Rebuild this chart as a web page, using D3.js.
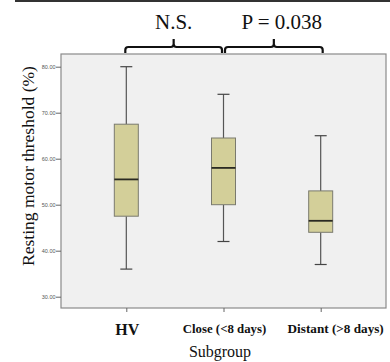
<!DOCTYPE html>
<html>
<head>
<meta charset="utf-8">
<script src="https://cdn.jsdelivr.net/npm/d3@7"></script>
<style>
  body { margin: 0; background: #fff; }
  svg { display: block; }
  .tick-label { font-family: Arial, "Liberation Sans", sans-serif; font-size: 5.5px; fill: #555; }
  .serif { font-family: "Liberation Serif", "Times New Roman", serif; fill: #111; }
</style>
</head>
<body>
<svg id="chart" width="390" height="362"></svg>
<script>
// Boxplot of resting motor threshold by subgroup

const groups = ['HV', 'Close (<8 days)', 'Distant (>8 days)'];
const whiskerLow = [36, 42, 37];
const q1 = [47.5, 50, 44];
const median = [55.5, 58, 46.5];
const q3 = [67.5, 64.5, 53];
const whiskerHigh = [80, 74, 65];
const yTicks = [30, 40, 50, 60, 70, 80];
const labelSizes = [16, 12.8, 13.2];

let svg = d3.select('svg'),
  plot = { left: 61, right: 386, top: 54, bottom: 308 };

let x = d3.scalePoint()
  .domain(groups)
  .range([plot.left, plot.right])
  .padding(0.672);

let y = d3.scaleLinear().domain([30, 80]).range([296.7, 66.7]);

const boxW = 24;

// top rule
svg.append('line')
  .attr('x1', 15).attr('x2', 390)
  .attr('y1', 1).attr('y2', 1)
  .attr('stroke', '#333').attr('stroke-width', 2);

// plot frame
svg.append('rect')
  .attr('x', plot.left).attr('y', plot.top)
  .attr('width', plot.right - plot.left)
  .attr('height', plot.bottom - plot.top)
  .attr('fill', '#f0f0f0')
  .attr('stroke', '#8a8a8a')
  .attr('stroke-width', 1.2);

// y axis
let yAxis = svg.append('g')
  .attr('transform', 'translate(' + plot.left + ',0)')
  .call(d3.axisLeft(y).tickValues(yTicks).tickSize(5).tickFormat(d3.format('.2f')));
yAxis.select('.domain').remove();
yAxis.selectAll('line').attr('stroke', '#666');
yAxis.selectAll('text')
  .attr('class', 'tick-label')
  .attr('x', -5.5);

// x axis
let xAxis = svg.append('g')
  .attr('transform', 'translate(0,' + plot.bottom + ')')
  .call(d3.axisBottom(x).tickSize(4).tickFormat(''));
xAxis.select('.domain').remove();
xAxis.selectAll('line').attr('stroke', '#666');

svg.selectAll('.xlab')
  .data(groups)
  .enter()
  .append('text')
  .attr('class', 'serif xlab')
  .attr('x', (d, i) => x(d) + (i == 2 ? 15 : 1))
  .attr('y', (d, i) => i == 0 ? 335 : 333)
  .attr('text-anchor', 'middle')
  .attr('font-weight', 'bold')
  .attr('font-size', (d, i) => labelSizes[i] + 'px')
  .text(d => d);

svg.append('text')
  .attr('class', 'serif')
  .attr('x', 220).attr('y', 357)
  .attr('text-anchor', 'middle')
  .attr('font-size', '16px')
  .text('Subgroup');

svg.append('text')
  .attr('class', 'serif')
  .attr('transform', 'translate(34,166) rotate(-90)')
  .attr('text-anchor', 'middle')
  .attr('font-size', '17.5px')
  .text('Resting motor threshold (%)');

// boxes
let box = svg.selectAll('.box')
  .data(groups)
  .enter()
  .append('g')
  .attr('class', 'box');

box.append('line')
  .attr('x1', d => x(d)).attr('x2', d => x(d))
  .attr('y1', (d, i) => y(whiskerHigh[i]))
  .attr('y2', (d, i) => y(q3[i]))
  .attr('stroke', '#555').attr('stroke-width', 1.2);

box.append('line')
  .attr('x1', d => x(d)).attr('x2', d => x(d))
  .attr('y1', (d, i) => y(q1[i]))
  .attr('y2', (d, i) => y(whiskerLow[i]))
  .attr('stroke', '#555').attr('stroke-width', 1.2);

box.selectAll('.cap')
  .data((d, i) => [[d, whiskerHigh[i]], [d, whiskerLow[i]]])
  .enter()
  .append('line')
  .attr('x1', d => x(d[0]) - 6).attr('x2', d => x(d[0]) + 6)
  .attr('y1', d => y(d[1])).attr('y2', d => y(d[1]))
  .attr('stroke', '#444').attr('stroke-width', 1.2);

box.append('rect')
  .attr('x', d => x(d) - boxW / 2)
  .attr('y', (d, i) => y(q3[i]))
  .attr('width', boxW)
  .attr('height', (d, i) => y(q1[i]) - y(q3[i]))
  .attr('fill', '#d3cf99')
  .attr('stroke', '#7a7a6e')
  .attr('stroke-width', 1);

box.append('line')
  .attr('x1', d => x(d) - boxW / 2).attr('x2', d => x(d) + boxW / 2)
  .attr('y1', (d, i) => y(median[i])).attr('y2', (d, i) => y(median[i]))
  .attr('stroke', '#2a2a22').attr('stroke-width', 1.8);

// significance brackets
const brackets = [
  { from: groups[0], to: groups[1], label: 'N.S.', a: -1, b: -1.5, dx: 0 },
  { from: groups[1], to: groups[2], label: 'P = 0.038', a: 1.5, b: 2, dx: 8 }
];

const bracketPath = (x0, x1) => {
  let m = (x0 + x1) / 2, yl = 47, r = 3;
  return 'M' + x0 + ',' + 53 +
    'L' + x0 + ',' + (yl + r) + 'Q' + x0 + ',' + yl + ' ' + (x0 + r) + ',' + yl +
    'L' + (m - r) + ',' + yl + 'Q' + m + ',' + yl + ' ' + m + ',' + (yl - r) +
    'L' + m + ',' + 39 +
    'M' + m + ',' + (yl - r) + 'Q' + m + ',' + yl + ' ' + (m + r) + ',' + yl +
    'L' + (x1 - r) + ',' + yl + 'Q' + x1 + ',' + yl + ' ' + x1 + ',' + (yl + r) +
    'L' + x1 + ',' + 53;
};

brackets.forEach(b => {
  let x0 = x(b.from) + b.a, x1 = x(b.to) + b.b;
  svg.append('path')
    .attr('d', bracketPath(x0, x1))
    .attr('fill', 'none')
    .attr('stroke', '#111')
    .attr('stroke-width', 2.2);
  svg.append('text')
    .attr('class', 'serif')
    .attr('x', (x0 + x1) / 2 + b.dx)
    .attr('y', 29)
    .attr('text-anchor', 'middle')
    .attr('font-size', '21px')
    .text(b.label);
});
</script>
</body>
</html>
